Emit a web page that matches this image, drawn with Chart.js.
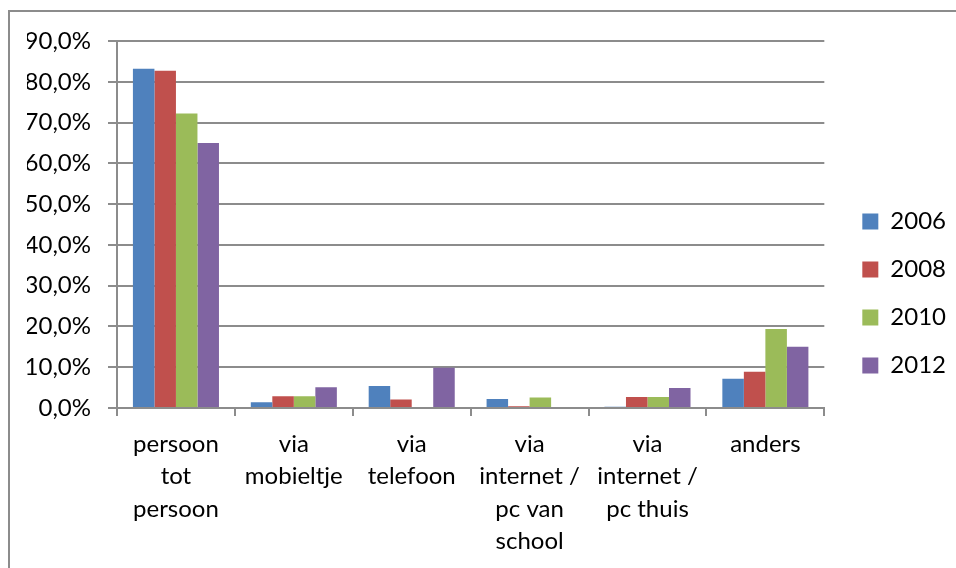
<!DOCTYPE html>
<html lang="nl">
<head>
    <meta charset="UTF-8" />
    <title>Contact per jaar</title>
    <style>
        body {
            margin: 0;
            background: #fff;
            overflow: hidden;
        }
        .frame {
            position: absolute;
            left: 8px;
            top: 10px;
            width: 1000px;
            height: 1000px;
            border-left: 2px solid #8c8c8c;
            border-top: 2px solid #8c8c8c;
            pointer-events: none;
        }
        #chart {
            position: absolute;
            left: 0;
            top: 0;
        }
    </style>
</head>
<body>
    <canvas id="chart" width="956" height="568"></canvas>
    <div class="frame"></div>

    <script src="https://cdn.jsdelivr.net/npm/chart.js"></script>
    <script>
        const categories = [
            ['persoon', 'tot', 'persoon'],
            ['via', 'mobieltje'],
            ['via', 'telefoon'],
            ['via', 'internet /', 'pc van', 'school'],
            ['via', 'internet /', 'pc thuis'],
            ['anders']
        ];
        const years = ['2006', '2008', '2010', '2012'];
        const values2006 = [83.2, 1.4, 5.4, 2.2, 0.3, 7.2];
        const values2008 = [82.7, 2.9, 2.1, 0.4, 2.7, 8.9];
        const values2010 = [72.2, 2.9, 0.0, 2.6, 2.7, 19.4];
        const values2012 = [65.0, 5.1, 9.9, 0.0, 4.9, 15.0];
        const colors = ['#4f81bd', '#c0504d', '#9bbb59', '#8064a2'];

        const series = [values2006, values2008, values2010, values2012];
        const gridColor = '#8c8c8c';
        const font = { family: 'Lato', size: 24 };

        // legend sits a little above the middle, as in the original
        const liftLegend = {
            id: 'liftLegend',
            afterLayout(chart) {
                chart.legend.top -= 11;
                chart.legend.bottom -= 11;
            }
        };

        new Chart(document.getElementById('chart'), {
            type: 'bar',
            data: {
                labels: categories,
                datasets: series.map((vals, i) => ({
                    label: years[i],
                    data: vals,
                    backgroundColor: colors[i],
                    categoryPercentage: 0.73,
                    barPercentage: 1.0
                }))
            },
            plugins: [liftLegend],
            options: {
                responsive: false,
                animation: false,
                layout: { padding: { left: 27, top: 41, right: 0, bottom: 0 } },
                plugins: {
                    tooltip: { enabled: false },
                    legend: {
                        position: 'right',
                        labels: {
                            color: '#000',
                            font: font,
                            boxWidth: 16,
                            boxHeight: 16,
                            padding: 24
                        }
                    }
                },
                scales: {
                    x: {
                        grid: {
                            display: true,
                            offset: true,
                            drawOnChartArea: false,
                            tickLength: 8,
                            color: gridColor,
                            lineWidth: 2
                        },
                        border: { color: gridColor, width: 2 },
                        ticks: {
                            color: '#000',
                            font: { family: 'Lato', size: 24, lineHeight: 1.35 },
                            padding: 12,
                            maxRotation: 0,
                            autoSkip: false
                        },
                        afterFit(scale) { scale.height = 160; }
                    },
                    y: {
                        min: 0,
                        max: 90,
                        grid: {
                            color: gridColor,
                            lineWidth: 2,
                            tickLength: 9
                        },
                        border: { color: gridColor, width: 2 },
                        ticks: {
                            stepSize: 10,
                            color: '#000',
                            font: font,
                            padding: 17,
                            callback: v => v.toFixed(1).replace('.', ',') + '%'
                        },
                        afterFit(scale) { scale.width = 90; }
                    },
                    gap: {
                        type: 'linear',
                        position: 'right',
                        grid: { display: false },
                        border: { display: false },
                        ticks: { display: false },
                        afterFit(scale) { scale.width = 14; }
                    }
                }
            }
        });
    </script>
</body>
</html>
